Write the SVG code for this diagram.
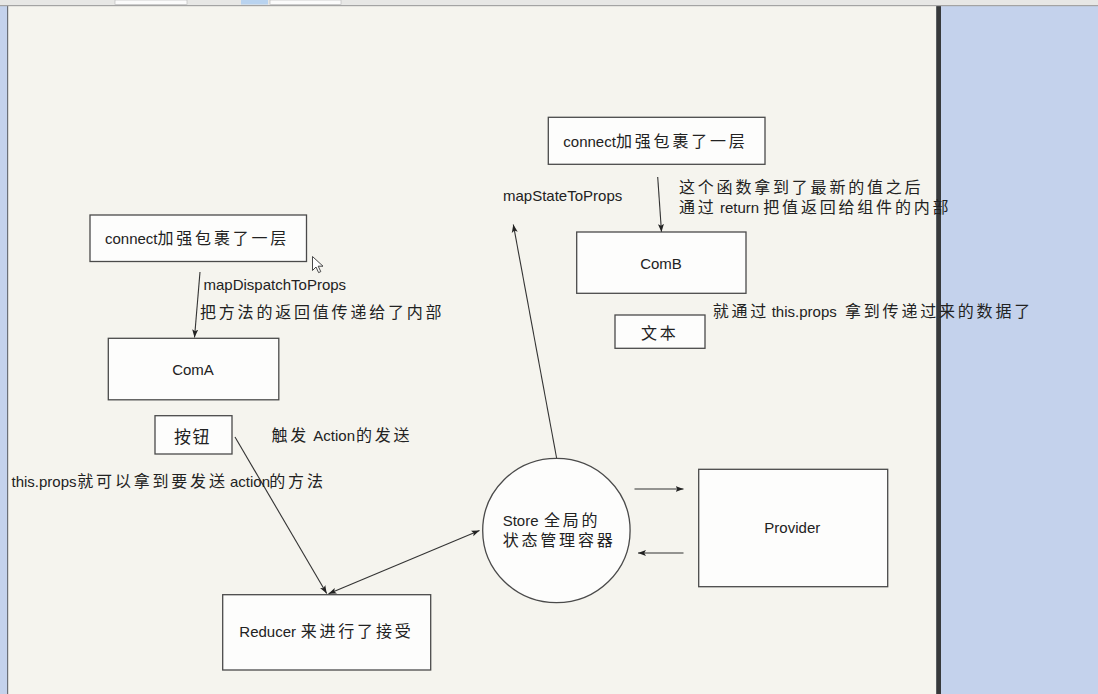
<svg xmlns="http://www.w3.org/2000/svg" width="1098" height="694" viewBox="0 0 1098 694">
<style>
.t{font-family:"Liberation Sans","Noto Sans CJK SC",sans-serif;font-size:15px;fill:#222}
.c{font-family:"Noto Sans CJK SC","Liberation Sans",sans-serif;font-size:16px;letter-spacing:2.8px}
.m{text-anchor:middle}
.box{fill:#fdfdfc;stroke:#4a4a4a;stroke-width:1.3}
.ln{fill:none;stroke:#333;stroke-width:1.1}
</style>
<defs>
<marker id="ah" markerUnits="userSpaceOnUse" markerWidth="9" markerHeight="8" refX="8" refY="3.5" orient="auto-start-reverse">
<path d="M0,0.5 L8,3.5 L0,6.5 L1.8,3.5 Z" fill="#222"/>
</marker>
</defs>
<!-- background / window chrome -->
<rect x="0" y="0" width="1098" height="694" fill="#c4d2ec"/>
<rect x="8" y="6" width="928" height="688" fill="#f5f4ee"/>
<rect x="7" y="6" width="1.2" height="688" fill="#6a6f78"/>
<rect x="936" y="6" width="5" height="688" fill="#37393b"/>
<rect x="936" y="6" width="1" height="688" fill="#5a5e61"/>
<rect x="0" y="0" width="1098" height="5" fill="#e7e7e5"/>
<rect x="0" y="5" width="1098" height="1.2" fill="#a3a3a3"/>
<rect x="115" y="0" width="72" height="4.5" fill="#fbfbfb" stroke="#b5b5b5" stroke-width="0.6"/>
<rect x="241" y="0" width="27" height="4.5" fill="#b9d3ef"/>
<rect x="270" y="0" width="71" height="4.5" fill="#fbfbfb" stroke="#b5b5b5" stroke-width="0.6"/>

<g id="connectors">
<line class="ln" x1="200" y1="272" x2="194.5" y2="337.5" marker-end="url(#ah)"/>
<line class="ln" x1="657.7" y1="177" x2="661.5" y2="232" marker-end="url(#ah)"/>
<line class="ln" x1="235" y1="437" x2="326.7" y2="593.5" marker-end="url(#ah)"/>
<line class="ln" x1="328.5" y1="593.8" x2="479.5" y2="530.5" marker-start="url(#ah)" marker-end="url(#ah)"/>
<line class="ln" x1="556.7" y1="458.5" x2="513.3" y2="224.5" marker-end="url(#ah)"/>
<line class="ln" x1="634.5" y1="489" x2="683.5" y2="489" marker-end="url(#ah)"/>
<line class="ln" x1="683.5" y1="553" x2="638" y2="553" marker-end="url(#ah)"/>
</g>

<g id="connectA">
<rect class="box" x="90" y="215" width="216.5" height="46.5"/>
</g>
<g id="comA">
<rect class="box" x="108.3" y="338.3" width="170.5" height="61.5"/>
</g>
<g id="buttonA">
<rect class="box" x="155" y="415.7" width="77" height="38.3"/>
</g>
<g id="reducer">
<rect class="box" x="222.7" y="594.7" width="208" height="75.3"/>
</g>
<g id="store">
<ellipse class="box" cx="556.4" cy="530.5" rx="73.7" ry="72.2"/>
</g>
<g id="provider">
<rect class="box" x="698.7" y="469.3" width="189" height="117.4"/>
</g>
<g id="connectB">
<rect class="box" x="548.3" y="117.3" width="216.7" height="47"/>
</g>
<g id="comB">
<rect class="box" x="576.7" y="232" width="169.3" height="61.3"/>
</g>
<g id="textB">
<rect class="box" x="615" y="315" width="90" height="33.3"/>
</g>

<!-- mouse pointer -->
<path d="M312.5,256.5 L312.5,270.5 L316,267 L318.6,272.6 L320.8,271.6 L318.2,266.2 L323,266.2 Z" fill="#fff" stroke="#333" stroke-width="0.9" stroke-linejoin="round"/>

<g id="labels">
<text class="t" x="105" y="244">connect<tspan class="c" x="157.5">加强包裹了一层</tspan></text>
<text class="t" x="563.3" y="147">connect<tspan class="c" x="616">加强包裹了一层</tspan></text>
<text class="t" x="203.5" y="289.5">mapDispatchToProps</text>
<text class="t" x="200" y="318"><tspan class="c">把方法的返回值传递给了内部</tspan></text>
<text class="t m" x="193" y="375">ComA</text>
<text class="t" x="174" y="443"><tspan class="c" style="font-size:17px;letter-spacing:1.5px">按钮</tspan></text>
<text class="t" x="271.5" y="441"><tspan class="c">触发</tspan><tspan x="313.3">Action</tspan><tspan class="c" x="356">的发送</tspan></text>
<text class="t" x="11.5" y="487">this.props<tspan class="c" x="77.3">就可以拿到要发送</tspan><tspan x="230">action</tspan><tspan class="c" x="269.3">的方法</tspan></text>
<text class="t" x="239.3" y="637">Reducer<tspan class="c" x="300.7">来进行了接受</tspan></text>
<text class="t" x="502.7" y="526">Store<tspan class="c" x="544">全局的</tspan></text>
<text class="t" x="502.7" y="546"><tspan class="c">状态管理容器</tspan></text>
<text class="t m" x="792.3" y="533.3">Provider</text>
<text class="t" x="503" y="201">mapStateToProps</text>
<text class="t" x="679" y="193"><tspan class="c">这个函数拿到了最新的值之后</tspan></text>
<text class="t" x="679" y="213"><tspan class="c">通过</tspan><tspan x="720">return</tspan><tspan class="c" x="763.3">把值返回给组件的内部</tspan></text>
<text class="t m" x="661" y="268.5">ComB</text>
<text class="t" x="712.7" y="317"><tspan class="c">就通过</tspan><tspan x="771.7">this.props</tspan><tspan class="c" x="845">拿到传递过来的数据了</tspan></text>
<text class="t" x="641" y="339"><tspan class="c">文本</tspan></text>
</g>
</svg>
